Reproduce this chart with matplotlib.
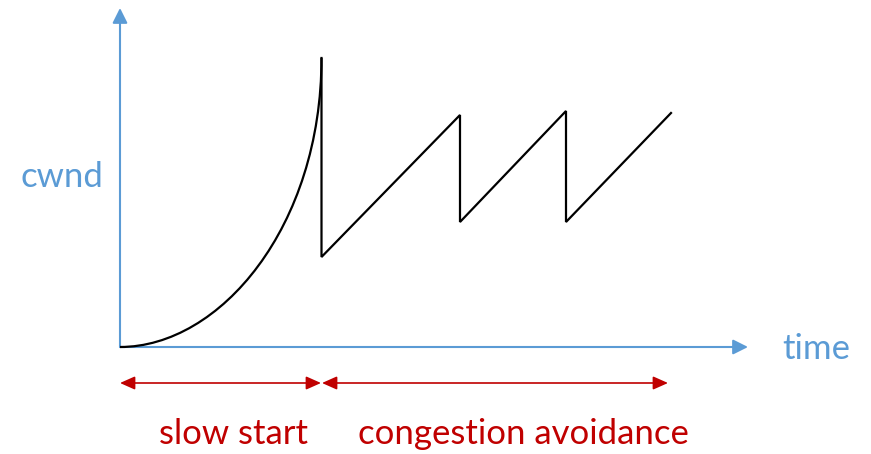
import matplotlib
matplotlib.use("Agg")
import matplotlib.pyplot as plt
from matplotlib.patches import FancyArrowPatch, PathPatch
from matplotlib.path import Path

# slow start phase: cubic curve (start, two handles, peak)
ss_time = [0, 100, 201.5, 201.5]
ss_cwnd = [0, 0, 120, 289]

# congestion avoidance (sawtooth)
ca_time = [201.5, 201.5, 340, 340, 446, 446, 551]
ca_cwnd = [289, 90, 232, 125, 236, 125, 234]

axis_label_x = "time"
axis_label_y = "cwnd"
phase_labels = ["slow start", "congestion avoidance"]
phase_bounds = [(0, 201), (202, 548)]
phase_label_x = [113, 403]

BLUE = "#5B9BD5"
RED = "#C00000"

plt.rcParams['font.family'] = ['Lato', 'DejaVu Sans']

fig = plt.figure(figsize=(8.71, 4.54), dpi=100)
ax = fig.add_axes([0, 0, 1, 1])
ax.set_xlim(-120, 751)
ax.set_ylim(-107, 347)
ax.axis('off')

def arrow(p0, p1, style, color, lw):
    a = FancyArrowPatch(p0, p1, arrowstyle=style, mutation_scale=10,
                        color=color, lw=lw, shrinkA=0, shrinkB=0)
    ax.add_patch(a)

# axes
arrow((0, 0), (0, 339), '-|>,head_length=0.9,head_width=0.45', BLUE, 1.5)
arrow((0, 0), (628, 0), '-|>,head_length=0.9,head_width=0.45', BLUE, 1.5)

ss_path = Path(list(zip(ss_time, ss_cwnd)),
               [Path.MOVETO, Path.CURVE4, Path.CURVE4, Path.CURVE4])
ax.add_patch(PathPatch(ss_path, fill=False, edgecolor='black', lw=1.6))
ax.plot(ca_time, ca_cwnd, color='black', lw=1.6, solid_joinstyle='miter')

ax.text(-100, 160, axis_label_y, color=BLUE, fontsize=25, ha='left', va='baseline')
ax.text(662, -12, axis_label_x, color=BLUE, fontsize=25, ha='left', va='baseline')

for (t0, t1), lab, lx in zip(phase_bounds, phase_labels, phase_label_x):
    arrow((t0, -36), (t1, -36), '<|-|>,head_length=0.9,head_width=0.4', RED, 1.2)
    ax.text(lx, -97, lab, color=RED, fontsize=25, ha='center', va='baseline')

fig.savefig("out.png", dpi=100)
